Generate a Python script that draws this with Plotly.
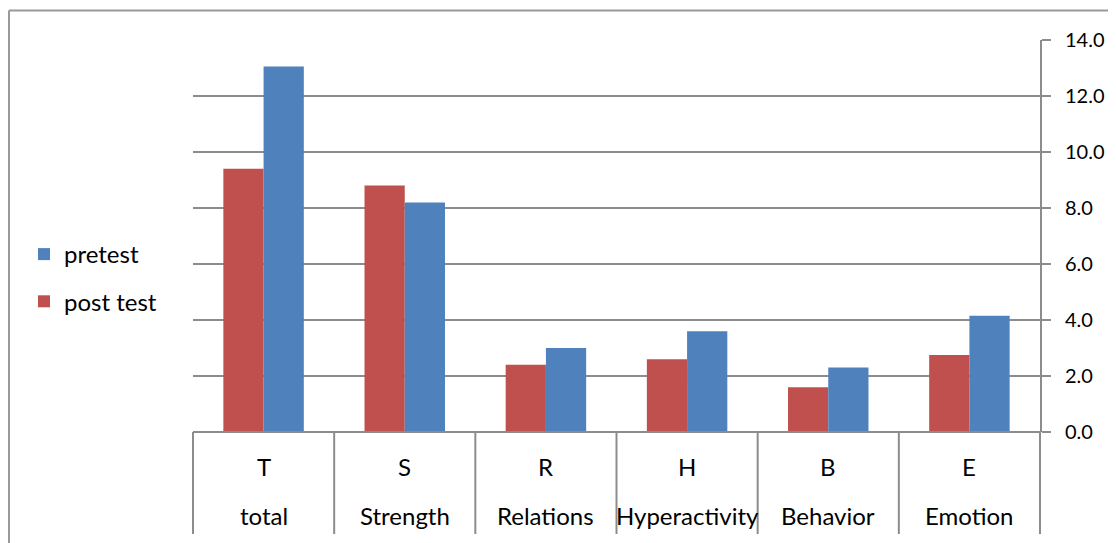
import plotly.graph_objects as go

letters = ["T", "S", "R", "H", "B", "E"]
names = ["total", "Strength", "Relations", "Hyperactivity", "Behavior", "Emotion"]
post_test = [9.4, 8.8, 2.4, 2.6, 1.6, 2.75]
pretest = [13.05, 8.2, 3.0, 3.6, 2.3, 4.15]
y_ticks = [0, 2, 4, 6, 8, 10, 12, 14]

RED = "#C0504D"
BLUE = "#4F81BD"
GRID = "#8C8C8C"
FONT = "Lato"

W, H = 1108, 535
L, R, T, B = 185, 1032, 32, 424
ph = B - T
pw = R - L

fig = go.Figure()
fig.add_trace(go.Bar(x=letters, y=post_test, name="post test", marker_color=RED,
                     legendgroup="b", legendrank=2, marker_line_width=0))
fig.add_trace(go.Bar(x=letters, y=pretest, name="pretest", marker_color=BLUE,
                     legendgroup="a", legendrank=1, marker_line_width=0))

shapes = []
for i in range(len(letters) + 1):
    xf = i / len(letters)
    shapes.append(dict(type="line", xref="paper", yref="paper", x0=xf, x1=xf,
                       y0=0, y1=-(526 - B) / ph, line=dict(color=GRID, width=2)))
shapes.append(dict(type="line", xref="paper", yref="paper", x0=0, x1=1, y0=0, y1=0,
                   line=dict(color=GRID, width=2)))
bx = (1 - L) / pw
by = (B - 2.5) / ph
shapes.append(dict(type="line", xref="paper", yref="paper", x0=bx, x1=bx,
                   y0=-(H - B) / ph, y1=by, line=dict(color="#999999", width=2)))
shapes.append(dict(type="line", xref="paper", yref="paper", x0=bx, x1=(W - L) / pw,
                   y0=by, y1=by, line=dict(color="#999999", width=2)))

annotations = []
for lt, nm in zip(letters, names):
    annotations.append(dict(x=lt, y=-(459 - B) / ph, xref="x", yref="paper", text=lt,
                            showarrow=False, font=dict(size=24, color="black", family=FONT),
                            xanchor="center", yanchor="middle"))
    annotations.append(dict(x=lt, y=-(508 - B) / ph, xref="x", yref="paper", text=nm,
                            showarrow=False, font=dict(size=24, color="black", family=FONT),
                            xanchor="center", yanchor="middle"))

fig.update_layout(
    width=W, height=H,
    margin=dict(l=L, r=W - R, t=T, b=H - B, pad=0, autoexpand=False),
    paper_bgcolor="white", plot_bgcolor="white",
    barmode="group", bargap=0.43, bargroupgap=0,
    font=dict(family=FONT, size=20, color="black"),
    xaxis=dict(type="category", showticklabels=False, showgrid=False, ticks="",
               showline=False, zeroline=False, range=[-0.5, 5.5]),
    yaxis=dict(side="right", range=[0, 14], tickvals=y_ticks,
               ticktext=[f"{v:.1f}" for v in y_ticks],
               showgrid=True, gridcolor=GRID, gridwidth=2,
               showline=True, linecolor=GRID, linewidth=2,
               ticks="outside", ticklen=9, tickwidth=2, tickcolor=GRID,
               ticklabelstandoff=10, automargin=False,
               zeroline=False, tickfont=dict(size=20, family=FONT, color="black")),
    legend=dict(x=16 / W, xref="container", y=(H - 224) / H, yref="container",
                xanchor="left", yanchor="top",
                traceorder="grouped", tracegroupgap=13,
                font=dict(size=24, family=FONT, color="black"),
                bgcolor="rgba(0,0,0,0)"),
    shapes=shapes,
    annotations=annotations,
)

fig.write_html("out.html")
